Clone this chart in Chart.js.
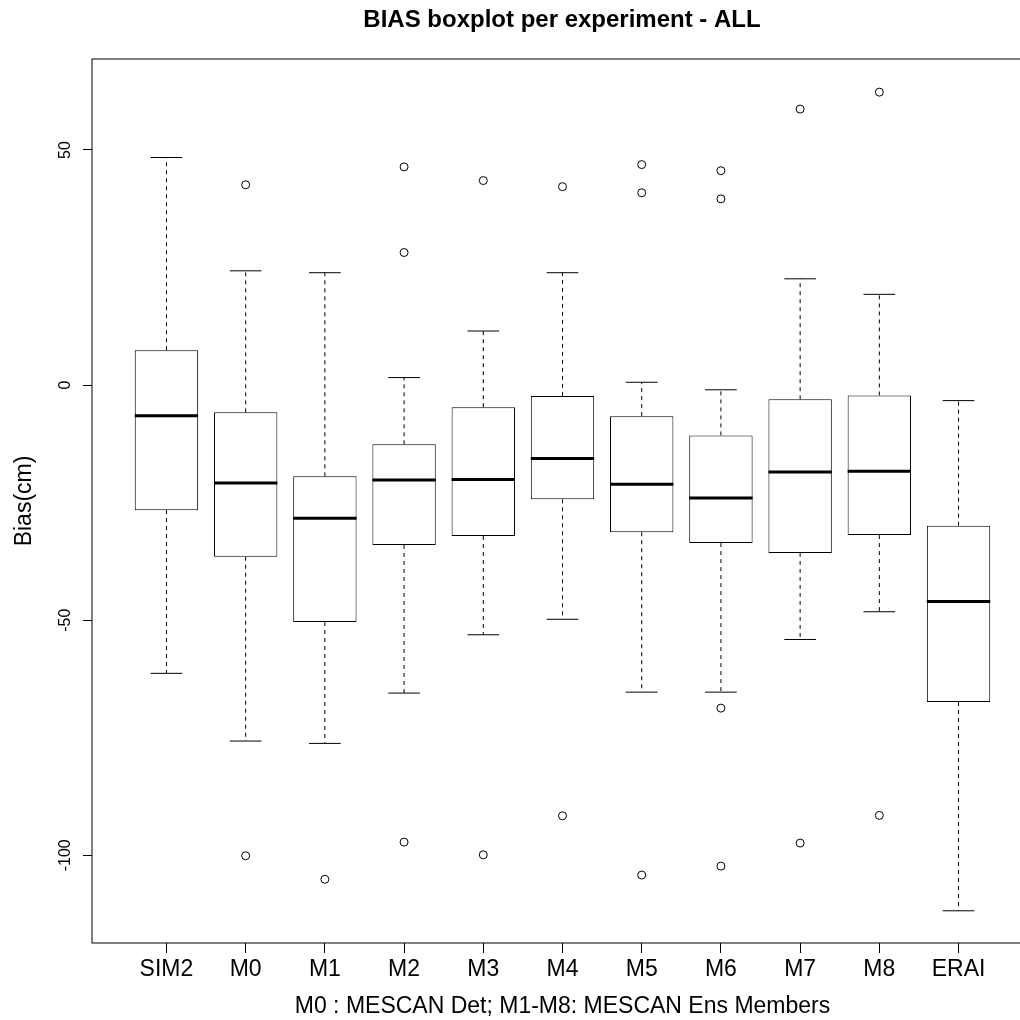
<!DOCTYPE html>
<html>
<head>
<meta charset="utf-8">
<title>BIAS boxplot per experiment - ALL</title>
<script src="https://cdn.jsdelivr.net/npm/chart.js@4.4.1/dist/chart.umd.min.js"></script>
<style>
    html, body { margin: 0; padding: 0; background: #fff; overflow: hidden; }
    #wrap { width: 1020px; height: 1020px; overflow: hidden; }
</style>
</head>
<body>
<div id="wrap"><canvas id="bias_chart" width="1124" height="1020"></canvas></div>
<script>
// boxplot stats (cm)
const categories = ['SIM2', 'M0', 'M1', 'M2', 'M3', 'M4', 'M5', 'M6', 'M7', 'M8', 'ERAI']
const whiskerLow = [-61.3, -75.7, -76.2, -65.5, -53.1, -49.8, -65.3, -65.3, -54.1, -48.2, -111.8]
const q1 = [-26.6, -36.5, -50.4, -34.0, -32.1, -24.3, -31.3, -33.6, -35.7, -31.9, -67.4]
const median = [-6.5, -20.8, -28.3, -20.2, -20.1, -15.6, -21.1, -24.0, -18.5, -18.3, -46.0]
const q3 = [7.4, -5.8, -19.4, -12.6, -4.7, -2.3, -6.6, -10.7, -3.0, -2.2, -29.9]
const whiskerHigh = [48.4, 24.3, 23.9, 1.6, 11.5, 23.9, 0.6, -1.0, 22.6, 19.3, -3.3]
const outliers = [
    [],
    [42.6, -100.1],
    [-105.1],
    [46.4, 28.2, -97.2],
    [43.5, -99.9],
    [42.2, -91.6],
    [46.9, 40.9, -104.2],
    [45.6, 39.6, -68.7, -102.3],
    [58.7, -97.4],
    [62.3, -91.5],
    []
]
const yTicks = [-100, -50, 0, 50]

const BOX_HALF = 0.4
const CAP_HALF = 0.2

// build the point lists the datasets need (null breaks the line)
let boxData = []
let whiskerData = []
let capData = []
let medianData = []
let outlierData = []
for (let i = 0; i < categories.length; i++) {
    const x = i + 1
    boxData.push({x: x, y: [q1[i], q3[i]]})
    whiskerData.push({x: x, y: q3[i]}, {x: x, y: whiskerHigh[i]}, {x: x, y: null})
    whiskerData.push({x: x, y: q1[i]}, {x: x, y: whiskerLow[i]}, {x: x, y: null})
    capData.push({x: x - CAP_HALF, y: whiskerHigh[i]}, {x: x + CAP_HALF, y: whiskerHigh[i]}, {x: x, y: null})
    capData.push({x: x - CAP_HALF, y: whiskerLow[i]}, {x: x + CAP_HALF, y: whiskerLow[i]}, {x: x, y: null})
    medianData.push({x: x - BOX_HALF, y: median[i]}, {x: x + BOX_HALF, y: median[i]}, {x: x, y: null})
    outliers[i].forEach(function (v) {
        outlierData.push({x: x, y: v})
    })
}

const framePlugin = {
    id: 'frame',
    afterDraw: function (chart) {
        const a = chart.chartArea
        const ctx = chart.ctx
        ctx.save()
        ctx.strokeStyle = '#000'
        ctx.lineWidth = 1
        ctx.strokeRect(Math.round(a.left), Math.round(a.top), Math.round(a.right - a.left), Math.round(a.bottom - a.top))
        ctx.restore()
    }
}

Chart.defaults.font.family = "'Liberation Sans', Arial, sans-serif"
Chart.defaults.color = '#000'

var ctx = document.getElementById('bias_chart').getContext('2d')
var chart = new Chart(ctx, {
    type: 'bar',
    data: {
        datasets: [{
            type: 'bar',
            data: boxData,
            backgroundColor: '#fff',
            borderColor: '#000',
            borderWidth: 1,
            borderSkipped: false,
            categoryPercentage: 1,
            barPercentage: 0.8,
            order: 2
        }, {
            type: 'line',
            data: whiskerData,
            borderColor: '#000',
            borderWidth: 1,
            borderDash: [4, 4],
            pointRadius: 0,
            fill: false,
            spanGaps: false,
            order: 3
        }, {
            type: 'line',
            data: capData,
            borderColor: '#000',
            borderWidth: 1,
            pointRadius: 0,
            fill: false,
            spanGaps: false,
            order: 1
        }, {
            type: 'line',
            data: medianData,
            borderColor: '#000',
            borderWidth: 3,
            borderCapStyle: 'butt',
            pointRadius: 0,
            fill: false,
            spanGaps: false,
            order: 0
        }, {
            type: 'scatter',
            data: outlierData,
            pointStyle: 'circle',
            pointRadius: 4,
            pointBorderWidth: 1,
            pointBorderColor: '#000',
            pointBackgroundColor: 'rgba(0,0,0,0)',
            order: 0
        }]
    },
    options: {
        responsive: false,
        animation: false,
        events: [],
        layout: {
            padding: 0
        },
        plugins: {
            legend: {display: false},
            tooltip: {enabled: false},
            title: {
                display: true,
                text: 'BIAS boxplot per experiment - ALL',
                font: {size: 24, weight: 'bold', lineHeight: 1.2},
                color: '#000',
                padding: {top: 6.3, bottom: 23.9}
            }
        },
        scales: {
            x: {
                type: 'linear',
                min: 0.06,
                max: 11.94,
                offset: false,
                afterFit: function (scale) { scale.height = 77 },
                grid: {offset: false, drawOnChartArea: false, drawTicks: true, tickLength: 10, color: '#000'},
                border: {display: false},
                ticks: {
                    stepSize: 1,
                    includeBounds: false,
                    autoSkip: false,
                    maxRotation: 0,
                    padding: 3,
                    font: {size: 23, lineHeight: 1.2},
                    callback: function (v) { return categories[v - 1] }
                },
                title: {
                    display: true,
                    text: 'M0 : MESCAN Det; M1-M8: MESCAN Ens Members',
                    font: {size: 23, lineHeight: 1},
                    padding: {top: 0, bottom: 1.5}
                }
            },
            y: {
                type: 'linear',
                min: -118.65,
                max: 69.35,
                afterFit: function (scale) { scale.width = 92 },
                afterBuildTicks: function (scale) {
                    scale.ticks = yTicks.map(function (v) { return {value: v} })
                },
                grid: {drawOnChartArea: false, drawTicks: true, tickLength: 9, color: '#000'},
                border: {display: false},
                ticks: {
                    minRotation: 90,
                    maxRotation: 90,
                    crossAlign: 'center',
                    padding: 1.5,
                    font: {size: 16}
                },
                title: {
                    display: true,
                    text: 'Bias(cm)',
                    font: {size: 23, lineHeight: 1},
                    padding: {top: 13.5, bottom: 0}
                }
            },
            // empty right margin so the title centres over the plot like R does
            yRight: {
                type: 'linear',
                position: 'right',
                display: true,
                afterFit: function (scale) { scale.width = 91 },
                grid: {display: false},
                border: {display: false},
                ticks: {display: false}
            }
        }
    },
    plugins: [framePlugin]
})
</script>
</body>
</html>
